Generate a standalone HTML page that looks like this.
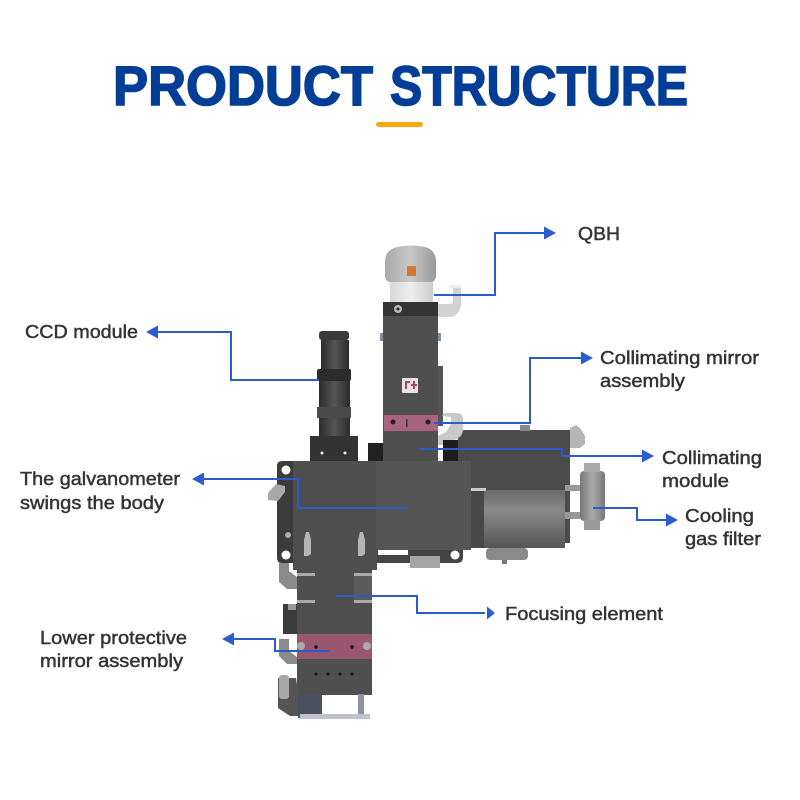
<!DOCTYPE html>
<html><head><meta charset="utf-8"><style>
html,body{margin:0;padding:0;background:#fff}
svg{display:block}
.l{font-family:"Liberation Sans",sans-serif;font-size:18px;fill:#333;stroke:#333;stroke-width:.45px}
.c{fill:none;stroke:#2a5bd0;stroke-width:2}
.t{font-family:"Liberation Sans",sans-serif;font-weight:700;font-size:56px;fill:#023e96;stroke:#023e96;stroke-width:1.6px}
</style></head><body>
<svg width="800" height="800" viewBox="0 0 800 800" xmlns="http://www.w3.org/2000/svg">
<defs>
<linearGradient id="g1" x1="0" x2="1" y1="0" y2="0"><stop offset="0" stop-color="#a9a9a9"/><stop offset=".5" stop-color="#c8c8c8"/><stop offset="1" stop-color="#999"/></linearGradient>
<linearGradient id="g2" x1="0" x2="1" y1="0" y2="0"><stop offset="0" stop-color="#d8d8d8"/><stop offset=".5" stop-color="#eee"/><stop offset="1" stop-color="#ccc"/></linearGradient>
<linearGradient id="g3" x1="0" x2="0" y1="0" y2="1"><stop offset="0" stop-color="#6a6a6a"/><stop offset=".35" stop-color="#8a8a8a"/><stop offset="1" stop-color="#555"/></linearGradient>
<linearGradient id="g4" x1="0" x2="1" y1="0" y2="0"><stop offset="0" stop-color="#2c2c2c"/><stop offset=".5" stop-color="#555"/><stop offset="1" stop-color="#2c2c2c"/></linearGradient>
<linearGradient id="g5" x1="0" x2="1" y1="0" y2="0"><stop offset="0" stop-color="#777"/><stop offset=".5" stop-color="#aaa"/><stop offset="1" stop-color="#777"/></linearGradient>
</defs>

<text class="t" x="113" y="105" textLength="260" lengthAdjust="spacingAndGlyphs">PRODUCT</text>
<text class="t" x="390" y="105" textLength="298" lengthAdjust="spacingAndGlyphs">STRUCTURE</text>
<rect x="376" y="122" width="47" height="5" rx="2.5" fill="#f9a912"/>

<!-- collimating module back -->
<rect x="458" y="430" width="112" height="113" fill="#4b4b4b"/>
<rect x="520" y="425" width="10" height="6" fill="#888"/>
<path d="M570 428l6-3 4 3 5 8v8l-5 4h-10z" fill="#b5b5b5"/>

<!-- QBH -->
<path d="M385 262q0-12 12-15q14-3 28 0q11 3 11 15v14q0 6-8 7h-35q-8-1-8-7z" fill="url(#g1)"/>
<rect x="407" y="266" width="9" height="10" fill="#d8772e"/>
<rect x="390" y="282" width="43" height="20" fill="url(#g2)"/>
<path d="M438 304h12q3 0 3-3v-16h8v18q0 10-9 14h-14z" fill="#d2d2d2"/>
<rect x="449" y="285" width="12" height="3" fill="#eee"/>
<rect x="383" y="302" width="55" height="160" fill="#4f4f4f"/>
<rect x="383" y="302" width="55" height="14" fill="#343434"/>
<circle cx="398" cy="309" r="4" fill="#bbb"/><circle cx="398" cy="309" r="1.500" fill="#222"/>
<rect x="438" y="366" width="5" height="60" fill="#555"/>
<rect x="380" y="333" width="3" height="8" fill="#7b8fa5"/><rect x="438" y="333" width="3" height="8" fill="#7b8fa5"/>
<rect x="402" y="378" width="16" height="15" rx="1" fill="#e9e4df"/>
<rect x="405" y="381" width="2" height="8" fill="#a5476b"/><rect x="405" y="381" width="5" height="2" fill="#a5476b"/><rect x="411" y="384" width="6" height="2" fill="#a5476b"/><rect x="413" y="381" width="2" height="8" fill="#a5476b"/>
<rect x="384" y="415" width="54" height="16" fill="#a8647f"/>
<circle cx="393" cy="422" r="2.500" fill="#222"/><circle cx="428" cy="422" r="2.500" fill="#222"/>
<rect x="406" y="419" width="1.500" height="8" fill="#333"/>
<path d="M438 436l8-4 5-8v-7l-9-1 2-3h14q5 1 5 5v12q-1 8-9 10l-8 5h-8z" fill="#c9c9c9"/>

<!-- Camera -->
<rect x="319" y="331" width="30" height="9" rx="3" fill="#3a3a3a"/>
<rect x="321" y="340" width="28" height="30" fill="url(#g4)"/>
<rect x="317" y="369" width="34" height="12" rx="2" fill="#2c2c2c"/>
<rect x="319" y="381" width="31" height="55" fill="url(#g4)"/>
<rect x="317" y="407" width="34" height="11" fill="#4a4a4a"/>
<rect x="310" y="436" width="48" height="26" fill="#333"/>
<circle cx="322" cy="453" r="1.500" fill="#eee"/><circle cx="345" cy="453" r="1.500" fill="#eee"/>
<rect x="368" y="443" width="15" height="20" fill="#222"/>
<rect x="443" y="440" width="15" height="22" fill="#1d1d1d"/>

<!-- back plates -->
<path d="M282 461h14v102h-14q-5 0-5-5v-92q0-5 5-5z" fill="#3c3c3c"/>
<circle cx="286" cy="470" r="4.500" fill="#fff"/><circle cx="286" cy="555" r="4.500" fill="#fff"/>
<circle cx="288" cy="535" r="3" fill="#aaa"/>
<path d="M374 548h89v9q0 6-6 6h-83z" fill="#444"/>
<rect x="378" y="550" width="30" height="5" fill="#fff"/>
<circle cx="455" cy="555" r="4.500" fill="#fff"/>
<rect x="410" y="556" width="30" height="12" fill="#a5a5a5"/>
<path d="M268 493l8-9 9 2v6l-7 9-10-1z" fill="#a8a8a8"/>

<!-- blocks -->
<rect x="293" y="461" width="84" height="109" fill="#4f4f4f"/>
<rect x="376" y="461" width="95" height="89" fill="#555"/>
<rect x="471" y="489" width="14" height="59" fill="#484848"/>
<rect x="484" y="490" width="81" height="58" fill="url(#g3)"/>
<rect x="471" y="488" width="15" height="3" fill="#ccc"/>
<rect x="486" y="548" width="42" height="12" rx="4" fill="#8a8a8a"/>
<rect x="502" y="560" width="5" height="4" fill="#777"/>
<rect x="565" y="485" width="15" height="6" fill="#999"/><rect x="565" y="512" width="15" height="7" fill="#999"/>
<rect x="580" y="471" width="25" height="50" rx="4" fill="url(#g5)"/>
<rect x="584" y="463" width="16" height="9" fill="#aaa"/><rect x="584" y="520" width="16" height="10" fill="#999"/>
<path d="M304 540l2-8h3l2 8v14l-3 2h-4z" fill="#b5b5b5"/><path d="M358 540l2-8h3l2 8v14l-3 2h-4z" fill="#b5b5b5"/>

<!-- lower column -->
<rect x="297" y="570" width="75" height="125" fill="#4f4f4f"/>
<rect x="354" y="575" width="18" height="28" fill="#5c5c5c"/>
<rect x="297" y="573" width="18" height="3" fill="#aaa"/><rect x="297" y="600" width="18" height="3" fill="#aaa"/>
<rect x="354" y="573" width="18" height="3" fill="#aaa"/><rect x="354" y="600" width="18" height="3" fill="#aaa"/>
<rect x="297" y="634" width="75" height="25" fill="#9a566e"/>
<circle cx="301" cy="646" r="4" fill="#aaa"/><circle cx="367" cy="646" r="4" fill="#aaa"/>
<circle cx="316" cy="647" r="1.700" fill="#111"/><circle cx="352" cy="647" r="1.700" fill="#111"/>
<circle cx="316" cy="674" r="1.500" fill="#111"/><circle cx="328" cy="674" r="1.500" fill="#111"/><circle cx="340" cy="674" r="1.500" fill="#111"/><circle cx="352" cy="674" r="1.500" fill="#111"/>
<path d="M279 563h10v8l8 6v12h-10l-8-7z" fill="#8b8b8b"/>
<path d="M279 639h10v12l8 6v7h-10l-8-8z" fill="#8b8b8b"/>
<rect x="283" y="604" width="14" height="30" fill="#3c3c3c"/><rect x="288" y="604" width="8" height="6" fill="#999"/>
<path d="M278 678h18l2 14v24h-8l-12-8z" fill="#555"/><rect x="279" y="675" width="10" height="24" rx="3" fill="#a9a9a9"/>
<rect x="298" y="694" width="24" height="24" fill="#4c5160"/>
<rect x="358" y="694" width="6" height="22" fill="#8e93a0"/>
<rect x="300" y="714" width="70" height="5" fill="#c0c0d0"/>

<!-- connectors -->
<polyline class="c" points="434,295 495,295 495,233 546,233"/><path d="M544 226.500l12 6.500-12 6.500z" fill="#2a5bd0"/>
<polyline class="c" points="319,380 231,380 231,332 156,332"/><path d="M158 325.500l-12 6.500 12 6.500z" fill="#2a5bd0"/>
<polyline class="c" points="434,423 530,423 530,358 583,358"/><path d="M581 351.500l12 6.500-12 6.500z" fill="#2a5bd0"/>
<polyline class="c" points="420,449 562,449 562,456 644,456"/><path d="M642 449.500l12 6.500-12 6.500z" fill="#2a5bd0"/>
<polyline class="c" points="407,508 298,508 298,479 202,479"/><path d="M204 472.500l-12 6.500 12 6.500z" fill="#2a5bd0"/>
<polyline class="c" points="593,508 637,508 637,520 668,520"/><path d="M666 513.500l12 6.500-12 6.500z" fill="#2a5bd0"/>
<polyline class="c" points="336,596 417,596 417,613 485,613"/><path d="M487 606.500l8 6.500-8 6.500z" fill="#2a5bd0"/>
<polyline class="c" points="330,651 275,651 275,639 232,639"/><path d="M234 632.500l-12 6.500 12 6.500z" fill="#2a5bd0"/>

<!-- labels -->
<text class="l" x="578" y="240" textLength="42" lengthAdjust="spacingAndGlyphs">QBH</text>
<text class="l" x="25" y="338" textLength="113" lengthAdjust="spacingAndGlyphs">CCD module</text>
<text class="l" x="600" y="364" textLength="159" lengthAdjust="spacingAndGlyphs">Collimating mirror</text>
<text class="l" x="600" y="387" textLength="85" lengthAdjust="spacingAndGlyphs">assembly</text>
<text class="l" x="662" y="464" textLength="100" lengthAdjust="spacingAndGlyphs">Collimating</text>
<text class="l" x="662" y="487" textLength="67" lengthAdjust="spacingAndGlyphs">module</text>
<text class="l" x="685" y="522" textLength="69" lengthAdjust="spacingAndGlyphs">Cooling</text>
<text class="l" x="685" y="545" textLength="76" lengthAdjust="spacingAndGlyphs">gas filter</text>
<text class="l" x="505" y="620" textLength="158" lengthAdjust="spacingAndGlyphs">Focusing element</text>
<text class="l" x="20" y="485" textLength="160" lengthAdjust="spacingAndGlyphs">The galvanometer</text>
<text class="l" x="20" y="509" textLength="144" lengthAdjust="spacingAndGlyphs">swings the body</text>
<text class="l" x="40" y="644" textLength="147" lengthAdjust="spacingAndGlyphs">Lower protective</text>
<text class="l" x="40" y="667" textLength="143" lengthAdjust="spacingAndGlyphs">mirror assembly</text>
</svg>
</body></html>
